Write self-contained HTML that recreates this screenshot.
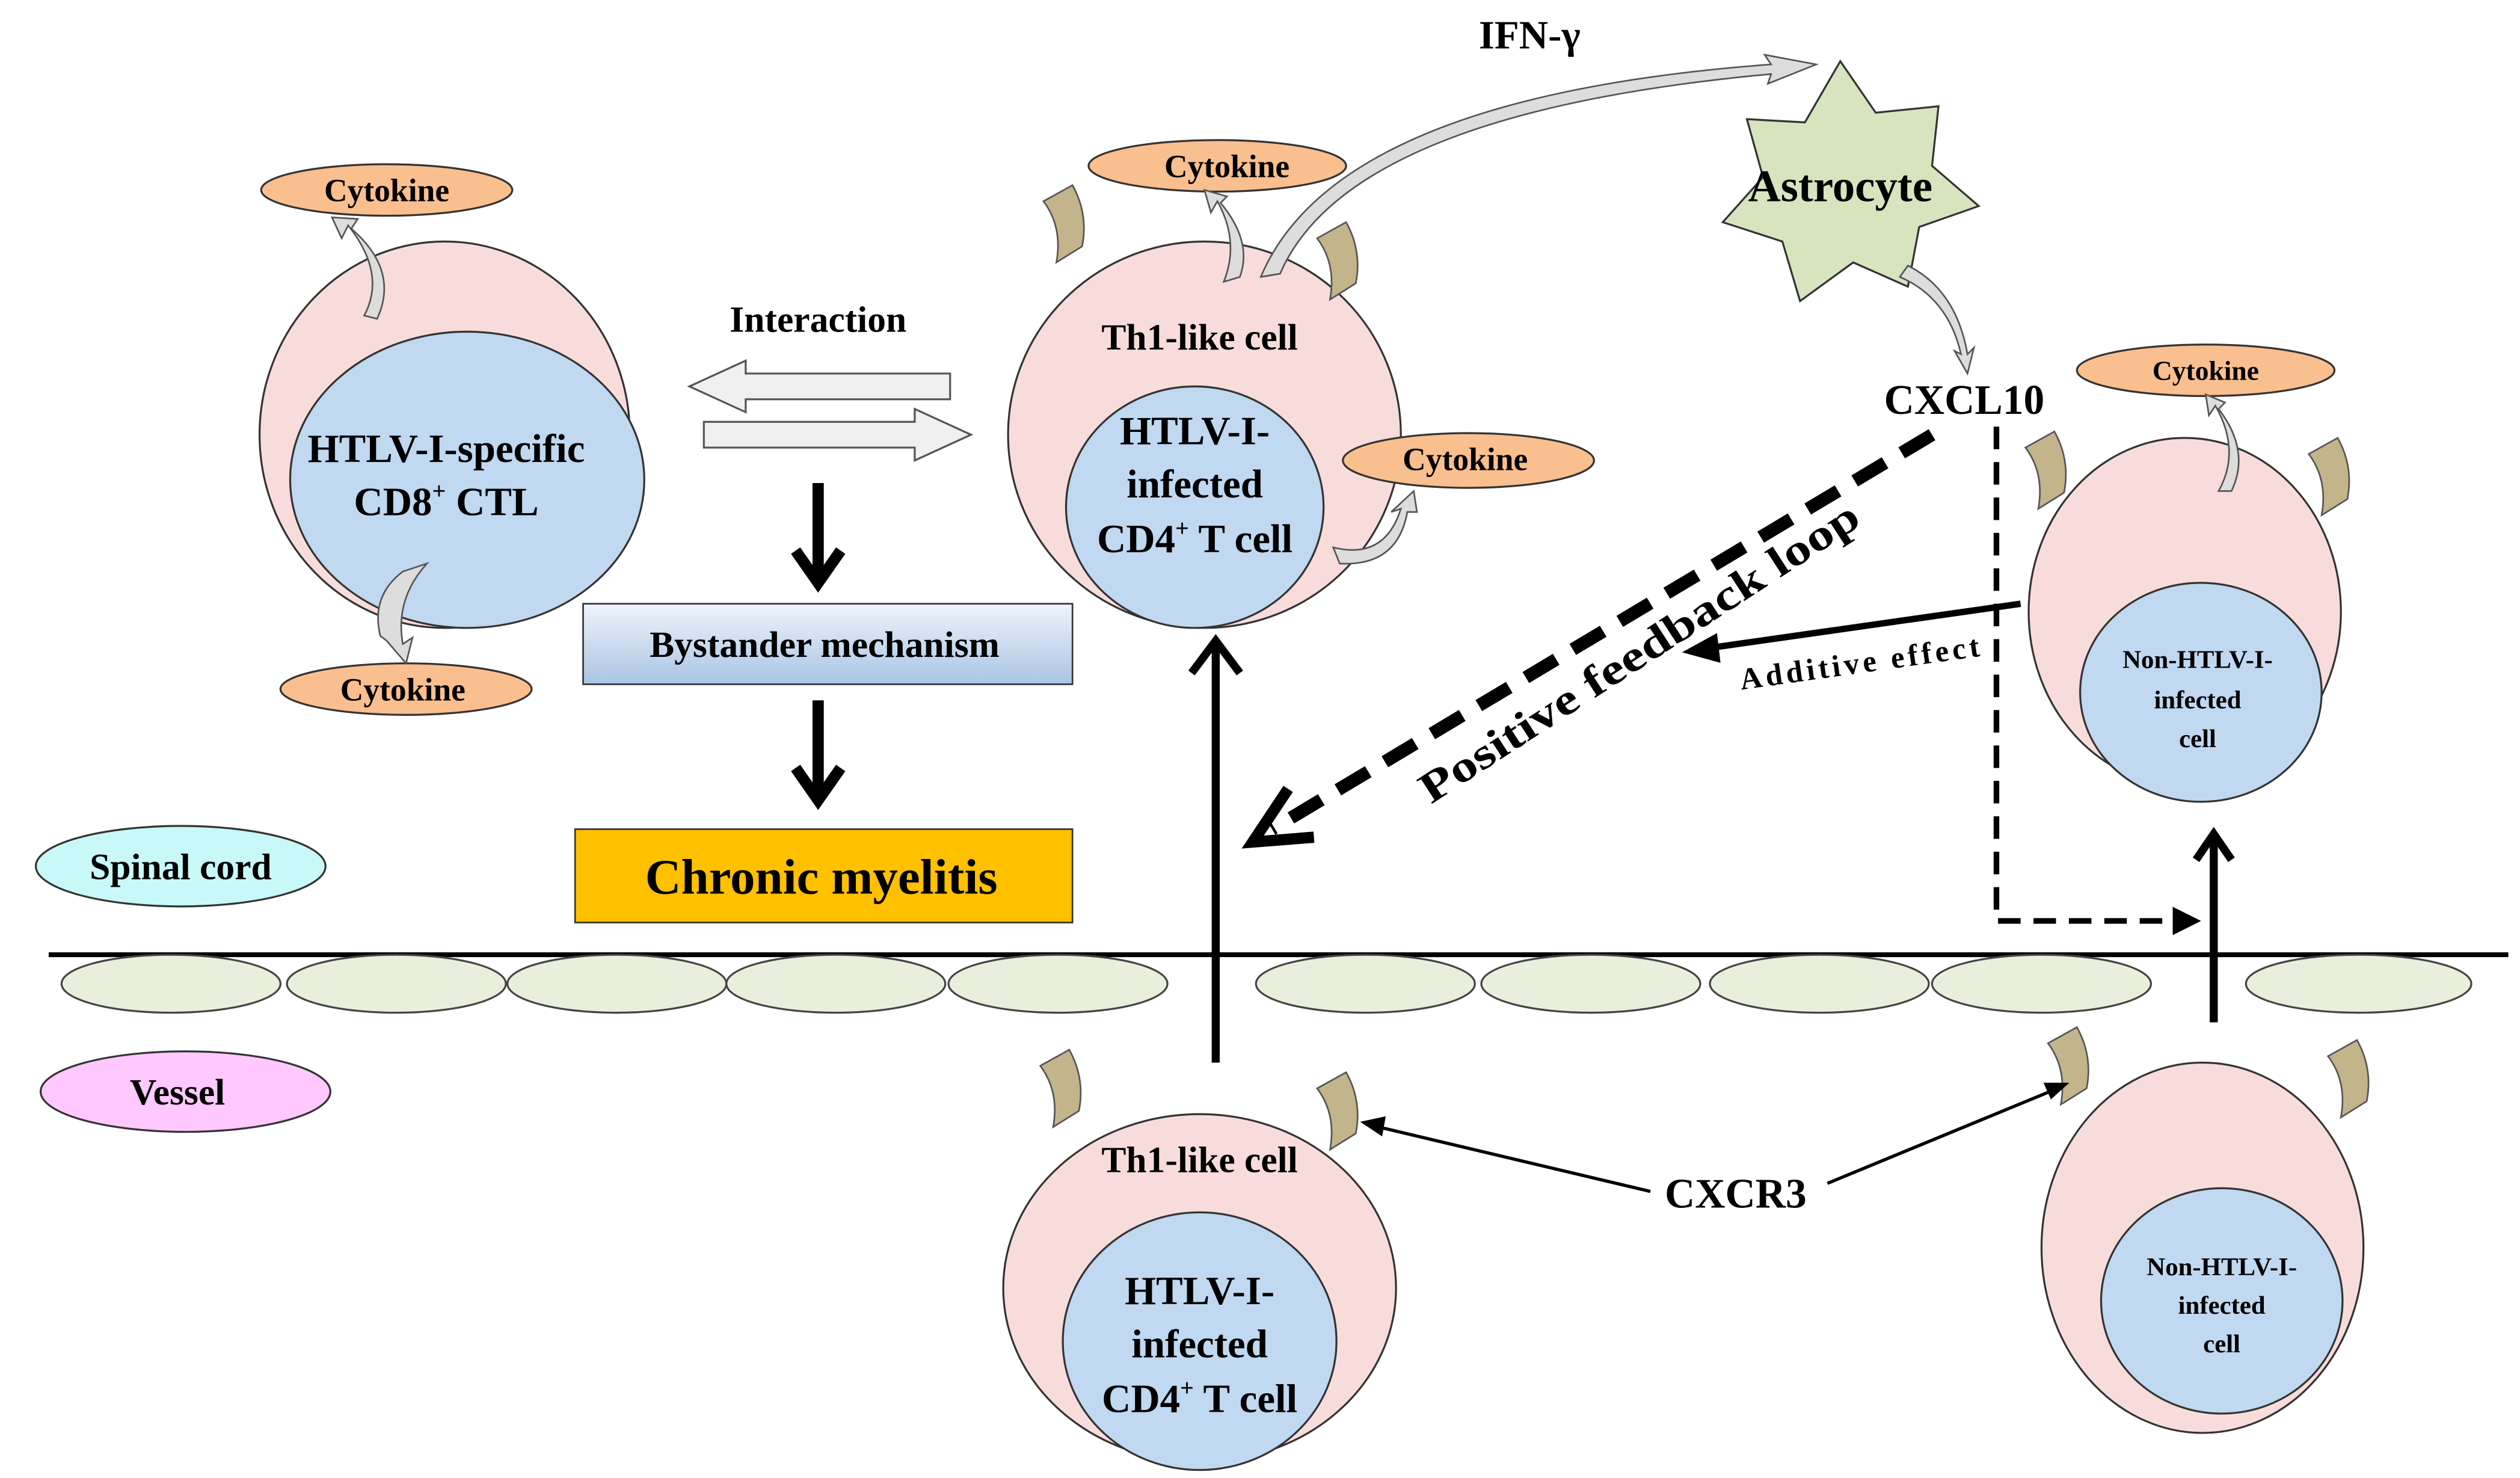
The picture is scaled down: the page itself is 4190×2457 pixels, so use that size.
<!DOCTYPE html>
<html><head><meta charset="utf-8"><style>html,body{margin:0;padding:0;background:#fff}svg{display:block}
text{font-family:"Liberation Serif",serif;font-weight:bold;fill:#000}</style></head><body>
<svg width="4190" height="2457" viewBox="0 0 1565 918" xmlns="http://www.w3.org/2000/svg">
<defs>
<linearGradient id="bg" x1="0" y1="0" x2="0" y2="1"><stop offset="0" stop-color="#eef4fb"/><stop offset="1" stop-color="#a9c4e4"/></linearGradient>
<g id="rec"><path d="M0,0 L18,-10 Q28,8 24,28 L8,38 Q12,16 0,0z" fill="#c4b48c" stroke="#555" stroke-width="1"/></g>
</defs>
<g stroke="#333" stroke-width="1.2">
<ellipse cx="276" cy="270" rx="115" ry="120" fill="#f8dcdc"/>
<ellipse cx="290" cy="298" rx="110" ry="92" fill="#c0d8f0"/>
<ellipse cx="748" cy="270" rx="122" ry="120" fill="#f8dcdc"/>
<ellipse cx="742" cy="315" rx="80" ry="75" fill="#c0d8f0"/>
<ellipse cx="1357" cy="380" rx="97" ry="108" fill="#f8dcdc"/>
<ellipse cx="1367" cy="430" rx="75" ry="68" fill="#c0d8f0"/>
<ellipse cx="745" cy="800" rx="122" ry="108" fill="#f8dcdc"/>
<ellipse cx="745" cy="833" rx="85" ry="80" fill="#c0d8f0"/>
<ellipse cx="1368" cy="775" rx="100" ry="115" fill="#f8dcdc"/>
<ellipse cx="1380" cy="808" rx="75" ry="70" fill="#c0d8f0"/>
<ellipse cx="240" cy="118" rx="78" ry="16" fill="#f9bf8f"/>
<ellipse cx="252" cy="428" rx="78" ry="16" fill="#f9bf8f"/>
<ellipse cx="756" cy="103" rx="80" ry="16" fill="#f9bf8f"/>
<ellipse cx="912" cy="286" rx="78" ry="17" fill="#f9bf8f"/>
<ellipse cx="1370" cy="230" rx="80" ry="16" fill="#f9bf8f"/>
<ellipse cx="112" cy="538" rx="90" ry="25" fill="#c8f8f8"/>
<ellipse cx="115" cy="678" rx="90" ry="25" fill="#ffc8ff"/>
<polygon fill="#d7e4bd" points="1143,38 1165,70 1204,66 1200,103 1229,128 1192,141 1185,178 1151,163 1118,187 1107,150 1070,138 1095,110 1085,74 1121,76"/>
</g>
<use href="#rec" transform="translate(648,125)"/><use href="#rec" transform="translate(818,148)"/>
<use href="#rec" transform="translate(1258,278)"/><use href="#rec" transform="translate(1434,282)"/>
<use href="#rec" transform="translate(646,662)"/><use href="#rec" transform="translate(818,676)"/>
<use href="#rec" transform="translate(1272,648)"/><use href="#rec" transform="translate(1446,656)"/>
<line x1="30" y1="593" x2="1558" y2="593" stroke="#000" stroke-width="3"/>
<g fill="#e9efdc" stroke="#444" stroke-width="1.2">
<ellipse cx="106" cy="611" rx="68" ry="18"/><ellipse cx="246" cy="611" rx="68" ry="18"/><ellipse cx="383" cy="611" rx="68" ry="18"/><ellipse cx="519" cy="611" rx="68" ry="18"/><ellipse cx="657" cy="611" rx="68" ry="18"/>
<ellipse cx="848" cy="611" rx="68" ry="18"/><ellipse cx="988" cy="611" rx="68" ry="18"/><ellipse cx="1130" cy="611" rx="68" ry="18"/><ellipse cx="1268" cy="611" rx="68" ry="18"/><ellipse cx="1465" cy="611" rx="70" ry="18"/>
</g>
<g fill="#ddd" stroke="#555" stroke-width="1">
<path d="M226,196 Q240,170 216,140 L212,148 L206,135 L222,136 L218,142 Q248,168 234,198z"/>
<path d="M236,395 Q230,370 250,355 L265,350 Q245,372 250,400 L256,396 L252,412 L240,398z"/>
<path d="M760,175 Q770,150 756,125 L752,132 L748,118 L762,122 L758,126 Q778,150 770,172z"/>
<path d="M828,340 Q860,348 870,316 L864,318 L878,305 L880,318 L874,318 Q868,352 832,350z"/>
<path d="M1378,305 Q1392,280 1376,252 L1372,258 L1370,245 L1382,250 L1378,254 Q1398,280 1386,305z"/>
<path d="M1185,165 Q1215,180 1222,220 L1226,216 L1222,232 L1214,218 L1218,220 Q1210,185 1180,172z"/>
<path d="M783,172 Q830,60 1100,40 L1096,34 L1128,40 L1098,52 L1100,46 Q838,70 795,170z"/>
</g>
<g fill="#f0f0f0" stroke="#555" stroke-width="1.2">
<path d="M590,232 L463,232 L463,224 L428,240 L463,256 L463,248 L590,248z"/>
<path d="M437,262 L568,262 L568,254 L603,270 L568,286 L568,278 L437,278z"/>
</g>
<g stroke="#000" stroke-width="7" fill="none"><line x1="508" y1="300" x2="508" y2="358"/><path d="M494,342 L508,362 L522,342"/>
<line x1="508" y1="435" x2="508" y2="493"/><path d="M494,477 L508,497 L522,477"/></g>
<rect x="362" y="375" width="304" height="50" fill="url(#bg)" stroke="#333" stroke-width="1"/>
<rect x="357" y="515" width="309" height="58" fill="#ffc000" stroke="#333" stroke-width="1"/>
<g stroke="#000" stroke-width="5" fill="none">
<line x1="755" y1="660" x2="755" y2="400"/><path d="M740,418 L755,398 L770,418"/>
<line x1="1375" y1="635" x2="1375" y2="520"/><path d="M1364,534 L1375,518 L1386,534"/>
</g>
<g stroke="#000" fill="none">
<line x1="1200" y1="270" x2="790" y2="515" stroke-width="8" stroke-dasharray="22,12"/>
<path d="M800,490 L778,523 L816,520" stroke-width="7"/>
<path d="M1240,265 L1240,572 L1360,572" stroke-width="3.5" stroke-dasharray="14,8"/>
<path d="M1350,564 L1366,572 L1350,580z" fill="#000" stroke-width="1"/>
<line x1="1255" y1="375" x2="1058" y2="403" stroke-width="4"/>
<path d="M1066,394 L1046,405 L1068,411z" fill="#000" stroke-width="1"/>
<line x1="1025" y1="740" x2="852" y2="699" stroke-width="2"/>
<path d="M860,694 L846,697 L858,705z" fill="#000"/>
<line x1="1135" y1="735" x2="1278" y2="676" stroke-width="2"/>
<path d="M1270,673 L1284,673 L1274,682z" fill="#000"/>
</g>
<g text-anchor="middle">
<text x="240" y="125" font-size="20">Cytokine</text>
<text x="250" y="435" font-size="20">Cytokine</text>
<text x="762" y="110" font-size="20">Cytokine</text>
<text x="910" y="292" font-size="20">Cytokine</text>
<text x="1370" y="236" font-size="17">Cytokine</text>
<text x="277" y="287" font-size="25">HTLV-I-specific</text>
<text x="277" y="320" font-size="25">CD8<tspan font-size="15" dy="-10">+</tspan><tspan dy="10"> CTL</tspan></text>
<text x="508" y="206" font-size="23">Interaction</text>
<text x="512" y="408" font-size="23">Bystander mechanism</text>
<text x="510" y="555" font-size="31">Chronic myelitis</text>
<text x="745" y="217" font-size="23">Th1-like cell</text>
<text x="742" y="276" font-size="25">HTLV-I-</text>
<text x="742" y="309" font-size="25">infected</text>
<text x="742" y="343" font-size="25">CD4<tspan font-size="15" dy="-10">+</tspan><tspan dy="10"> T cell</tspan></text>
<text x="745" y="728" font-size="23">Th1-like cell</text>
<text x="745" y="810" font-size="25">HTLV-I-</text>
<text x="745" y="843" font-size="25">infected</text>
<text x="745" y="877" font-size="25">CD4<tspan font-size="15" dy="-10">+</tspan><tspan dy="10"> T cell</tspan></text>
<text x="950" y="30" font-size="25">IFN-γ</text>
<text x="1143" y="125" font-size="28">Astrocyte</text>
<text x="1220" y="257" font-size="26">CXCL10</text>
<text x="1365" y="415" font-size="16">Non-HTLV-I-</text>
<text x="1365" y="440" font-size="16">infected</text>
<text x="1365" y="464" font-size="16">cell</text>
<text x="1380" y="792" font-size="16">Non-HTLV-I-</text>
<text x="1380" y="816" font-size="16">infected</text>
<text x="1380" y="840" font-size="16">cell</text>
<text x="112" y="546" font-size="23">Spinal cord</text>
<text x="110" y="686" font-size="23">Vessel</text>
<text x="1078" y="750" font-size="26">CXCR3</text>
<text x="1018" y="414" font-size="27" textLength="320" lengthAdjust="spacingAndGlyphs" transform="rotate(-33 1018 405)">Positive feedback loop</text>
<text x="1155" y="418" font-size="19" textLength="150" transform="rotate(-8 1155 412)">Additive effect</text>
</g>
</svg>
</body></html>
